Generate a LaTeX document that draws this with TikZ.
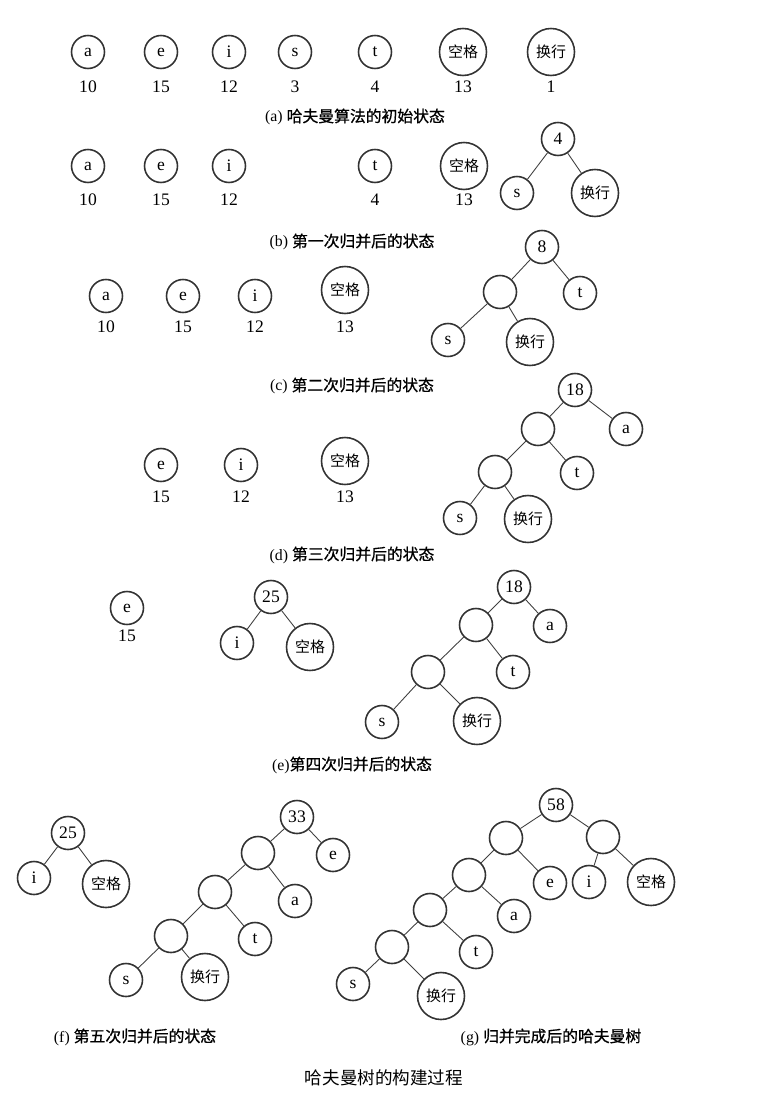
\documentclass[tikz,border=0pt]{standalone}
\usepackage{fontspec}
\setmainfont{Liberation Serif}
\newfontfamily\cjk{Noto Sans CJK SC}
\newfontfamily\cjkcap[FakeBold=0.8]{Noto Sans CJK SC}
\usetikzlibrary{positioning}

\tikzset{
  sn/.style={circle, draw=black!80, line width=0.9pt, minimum size=0.66cm, inner sep=0pt, font=\fontsize{10}{12}\selectfont},
  bn/.style={sn, minimum size=0.94cm, font=\cjk\fontsize{8.5}{10}\selectfont},
  wt/.style={font=\fontsize{10}{12}\selectfont, inner sep=0pt},
  capt/.style={font=\fontsize{9}{11}\selectfont, inner sep=0pt},
  edge/.style={draw=black!75, line width=0.5pt}
}

\begin{document}
\begin{tikzpicture}[x=0.02cm, y=-0.02cm]
\useasboundingbox[fill=white] (0,0) rectangle (757,1111);

% ================= (a) =================
\node[sn] (aA) at (88,52) {a};
\node[sn] (aE) at (161,52) {e};
\node[sn] (aI) at (229,52) {i};
\node[sn] (aS) at (295,52) {s};
\node[sn] (aT) at (375,52) {t};
\node[bn] (aKG) at (463,52) {空格};
\node[bn] (aHH) at (551,52) {换行};
\node[wt] (waA) at (88,87) {10};
\node[wt] (waE) at (161,87) {15};
\node[wt] (waI) at (229,87) {12};
\node[wt] (waS) at (295,87) {3};
\node[wt] (waT) at (375,87) {4};
\node[wt] (waKG) at (463,87) {13};
\node[wt] (waHH) at (551,87) {1};
\node[capt] (capA) at (355,117) {(a) {\cjkcap 哈夫曼算法的初始状态}};

% ================= (b) =================
\node[sn] (bA) at (88,166) {a};
\node[sn] (bE) at (161,166) {e};
\node[sn] (bI) at (229,166) {i};
\node[sn] (bT) at (375,166) {t};
\node[bn] (bKG) at (464,166) {空格};
\node[wt] (wbA) at (88,200) {10};
\node[wt] (wbE) at (161,200) {15};
\node[wt] (wbI) at (229,200) {12};
\node[wt] (wbT) at (375,200) {4};
\node[wt] (wbKG) at (464,200) {13};
% tree
\node[sn] (b4) at (558,139) {4};
\node[sn] (bS) at (517,193) {s};
\node[bn] (bHH) at (595,193) {换行};
\draw[edge] (b4) -- (bS);
\draw[edge] (b4) -- (bHH);
\node[capt] (capB) at (352,242) {(b) {\cjkcap 第一次归并后的状态}};

% ================= (c) =================
\node[sn] (cA) at (106,296) {a};
\node[sn] (cE) at (183,296) {e};
\node[sn] (cI) at (255,296) {i};
\node[bn] (cKG) at (345,290) {空格};
\node[wt] (wcA) at (106,327) {10};
\node[wt] (wcE) at (183,327) {15};
\node[wt] (wcI) at (255,327) {12};
\node[wt] (wcKG) at (345,327) {13};
% tree
\node[sn] (c8) at (542,247) {8};
\node[sn] (cN) at (500,292) {};
\node[sn] (cT) at (580,293) {t};
\node[sn] (cS) at (448,340) {s};
\node[bn] (cHH) at (530,342) {换行};
\draw[edge] (c8) -- (cN);
\draw[edge] (c8) -- (cT);
\draw[edge] (cN) -- (cS);
\draw[edge] (cN) -- (cHH);
\node[capt] (capC) at (352,386) {(c) {\cjkcap 第二次归并后的状态}};

% ================= (d) =================
\node[sn] (dE) at (161,465) {e};
\node[sn] (dI) at (241,465) {i};
\node[bn] (dKG) at (345,461) {空格};
\node[wt] (wdE) at (161,497) {15};
\node[wt] (wdI) at (241,497) {12};
\node[wt] (wdKG) at (345,497) {13};
% tree
\node[sn] (d18) at (575,390) {18};
\node[sn] (dN1) at (538,429) {};
\node[sn] (dA) at (626,429) {a};
\node[sn] (dN2) at (495,472) {};
\node[sn] (dT) at (577,473) {t};
\node[sn] (dS) at (460,518) {s};
\node[bn] (dHH) at (528,519) {换行};
\draw[edge] (d18) -- (dN1);
\draw[edge] (d18) -- (dA);
\draw[edge] (dN1) -- (dN2);
\draw[edge] (dN1) -- (dT);
\draw[edge] (dN2) -- (dS);
\draw[edge] (dN2) -- (dHH);
\node[capt] (capD) at (352,555) {(d) {\cjkcap 第三次归并后的状态}};

% ================= (e) =================
\node[sn] (eE) at (127,608) {e};
\node[wt] (weE) at (127,636) {15};
% tree 25
\node[sn] (e25) at (271,597) {25};
\node[sn] (eI) at (237,643) {i};
\node[bn] (eKG) at (310,647) {空格};
\draw[edge] (e25) -- (eI);
\draw[edge] (e25) -- (eKG);
% tree 18
\node[sn] (e18) at (514,587) {18};
\node[sn] (eN1) at (476,625) {};
\node[sn] (eA) at (550,626) {a};
\node[sn] (eN2) at (428,672) {};
\node[sn] (eT) at (513,672) {t};
\node[sn] (eS) at (382,722) {s};
\node[bn] (eHH) at (477,721) {换行};
\draw[edge] (e18) -- (eN1);
\draw[edge] (e18) -- (eA);
\draw[edge] (eN1) -- (eN2);
\draw[edge] (eN1) -- (eT);
\draw[edge] (eN2) -- (eS);
\draw[edge] (eN2) -- (eHH);
\node[capt] (capE) at (352,765) {(e){\cjkcap 第四次归并后的状态}};

% ================= (f) =================
\node[sn] (f25) at (68,833) {25};
\node[sn] (fI) at (34,878) {i};
\node[bn] (fKG) at (106,884) {空格};
\draw[edge] (f25) -- (fI);
\draw[edge] (f25) -- (fKG);
% tree 33
\node[sn] (f33) at (297,817) {33};
\node[sn] (fN1) at (258,853) {};
\node[sn] (fE) at (333,855) {e};
\node[sn] (fN2) at (215,892) {};
\node[sn] (fA) at (295,901) {a};
\node[sn] (fN3) at (171,936) {};
\node[sn] (fT) at (255,939) {t};
\node[sn] (fS) at (126,980) {s};
\node[bn] (fHH) at (205,977) {换行};
\draw[edge] (f33) -- (fN1);
\draw[edge] (f33) -- (fE);
\draw[edge] (fN1) -- (fN2);
\draw[edge] (fN1) -- (fA);
\draw[edge] (fN2) -- (fN3);
\draw[edge] (fN2) -- (fT);
\draw[edge] (fN3) -- (fS);
\draw[edge] (fN3) -- (fHH);
\node[capt] (capF) at (135,1037) {(f) {\cjkcap 第五次归并后的状态}};

% ================= (g) =================
\node[sn] (g58) at (556,805) {58};
\node[sn] (gL1) at (506,838) {};
\node[sn] (gR1) at (603,837) {};
\node[sn] (gL2) at (469,875) {};
\node[sn] (gE) at (550,883) {e};
\node[sn] (gI) at (589,882) {i};
\node[bn] (gKG) at (651,882) {空格};
\node[sn] (gL3) at (430,910) {};
\node[sn] (gA) at (514,916) {a};
\node[sn] (gL4) at (392,947) {};
\node[sn] (gT) at (476,952) {t};
\node[sn] (gS) at (353,984) {s};
\node[bn] (gHH) at (441,996) {换行};
\draw[edge] (g58) -- (gL1);
\draw[edge] (g58) -- (gR1);
\draw[edge] (gR1) -- (gI);
\draw[edge] (gR1) -- (gKG);
\draw[edge] (gL1) -- (gL2);
\draw[edge] (gL1) -- (gE);
\draw[edge] (gL2) -- (gL3);
\draw[edge] (gL2) -- (gA);
\draw[edge] (gL3) -- (gL4);
\draw[edge] (gL3) -- (gT);
\draw[edge] (gL4) -- (gS);
\draw[edge] (gL4) -- (gHH);
\node[capt] (capG) at (551,1037) {(g) {\cjkcap 归并完成后的哈夫曼树}};

% ================= title =================
\node[font=\cjk\fontsize{10}{12}\selectfont, inner sep=0pt] (title) at (384,1078) {哈夫曼树的构建过程};

\end{tikzpicture}
\end{document}
